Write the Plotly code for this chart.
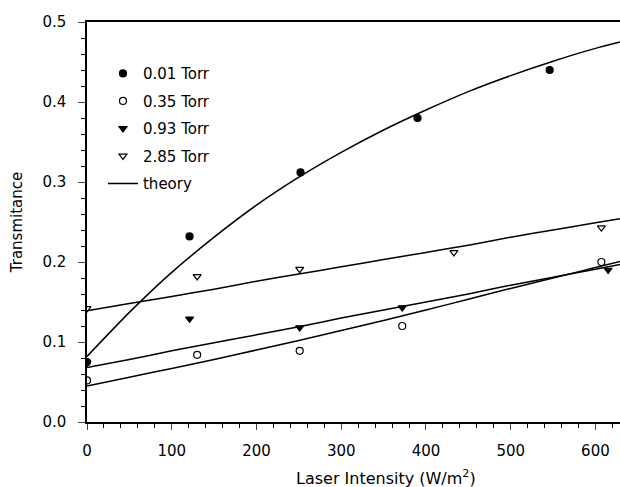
import plotly.graph_objects as go

# ---- measured data ----
x_001 = [0, 121, 252, 390, 546]
y_001 = [0.075, 0.232, 0.312, 0.380, 0.440]

x_035 = [0, 130, 251, 372, 607]
y_035 = [0.052, 0.084, 0.089, 0.120, 0.200]

x_093 = [0, 121, 251, 372, 615]
y_093 = [0.074, 0.129, 0.118, 0.143, 0.190]

x_285 = [0, 130, 251, 433, 607]
y_285 = [0.142, 0.182, 0.191, 0.212, 0.243]

# ---- theory curves ----
x_th = [0, 50, 100, 150, 200, 250, 300, 350, 400, 450, 500, 550, 600, 629]
th_001 = [0.082, 0.137, 0.187, 0.231, 0.271, 0.306, 0.337, 0.365, 0.390, 0.413, 0.433, 0.451, 0.467, 0.475]
th_035 = [0.045, 0.056, 0.067, 0.078, 0.090, 0.102, 0.1145, 0.127, 0.140, 0.1535, 0.167, 0.180, 0.193, 0.2005]
th_093 = [0.068, 0.078, 0.089, 0.099, 0.109, 0.119, 0.130, 0.140, 0.150, 0.160, 0.171, 0.181, 0.191, 0.197]
th_285 = [0.139, 0.148, 0.157, 0.166, 0.176, 0.185, 0.194, 0.203, 0.212, 0.221, 0.231, 0.240, 0.249, 0.254]

x_ticks = [0, 100, 200, 300, 400, 500, 600]
y_ticks = [0.0, 0.1, 0.2, 0.3, 0.4, 0.5]

FONT = "DejaVu Sans"
fig = go.Figure()

line_style = dict(color="black", width=1.5, shape="spline", smoothing=0.6)
for i, ys in enumerate([th_001, th_035, th_093, th_285]):
    fig.add_trace(go.Scatter(x=x_th, y=ys, mode="lines", line=line_style,
                             showlegend=False, hoverinfo="skip"))

mk = dict(size=7, color="black", line=dict(color="black", width=1.2))
fig.add_trace(go.Scatter(x=x_001, y=y_001, mode="markers", name="0.01 Torr",
                         legendgroup="a",
                         marker=dict(symbol="circle", **mk)))
fig.add_trace(go.Scatter(x=x_035, y=y_035, mode="markers", name="0.35 Torr",
                         legendgroup="b",
                         marker=dict(symbol="circle-open", size=7, color="black",
                                     line=dict(color="black", width=1.2))))
fig.add_trace(go.Scatter(x=x_093, y=y_093, mode="markers", name="0.93 Torr",
                         legendgroup="c",
                         marker=dict(symbol="triangle-down", **mk)))
fig.add_trace(go.Scatter(x=x_285, y=y_285, mode="markers", name="2.85 Torr",
                         legendgroup="d",
                         marker=dict(symbol="triangle-down-open", size=7, color="black",
                                     line=dict(color="black", width=1.2))))
fig.add_trace(go.Scatter(x=[None], y=[None], mode="lines", name="theory",
                         legendgroup="e",
                         line=dict(color="black", width=1.5)))

fig.update_layout(
    width=620, height=487,
    margin=dict(l=87, r=0, t=22, b=65),
    paper_bgcolor="white", plot_bgcolor="white",
    font=dict(family=FONT, size=15, color="black"),
    showlegend=True,
    legend=dict(x=0.03, y=0.912, xanchor="left", yanchor="top",
                bgcolor="rgba(0,0,0,0)", tracegroupgap=5,
                font=dict(family=FONT, size=15)),
    xaxis=dict(range=[0, 629], tickvals=x_ticks, ticks="outside", ticklen=6,
               tickwidth=1.3, showline=True, linecolor="black", linewidth=1.5,
               mirror=True, showgrid=False, zeroline=False,
               ticklabelstandoff=8,
               minor=dict(dtick=20, ticks="outside", ticklen=4, tickwidth=1.2,
                          tickcolor="black"),
               tickfont=dict(size=15)),
    yaxis=dict(range=[0, 0.5], tickvals=y_ticks, tickformat=".1f",
               ticks="outside", ticklen=7, tickwidth=1.3, showline=True,
               linecolor="black", linewidth=1.5, showgrid=False, zeroline=False,
               ticklabelstandoff=9,
               minor=dict(dtick=0.02, ticks="outside", ticklen=4, tickwidth=1.2,
                          tickcolor="black"),
               tickfont=dict(size=15),
               title=dict(text="Transmitance", font=dict(size=15), standoff=16)),
)

fig.add_annotation(text="Laser Intensity (W/m<sup>2</sup>)", xref="paper", yref="paper",
                   x=0.561, y=-0.138, xanchor="center", yanchor="middle",
                   showarrow=False, font=dict(family=FONT, size=16))

fig.write_html("out.html")
